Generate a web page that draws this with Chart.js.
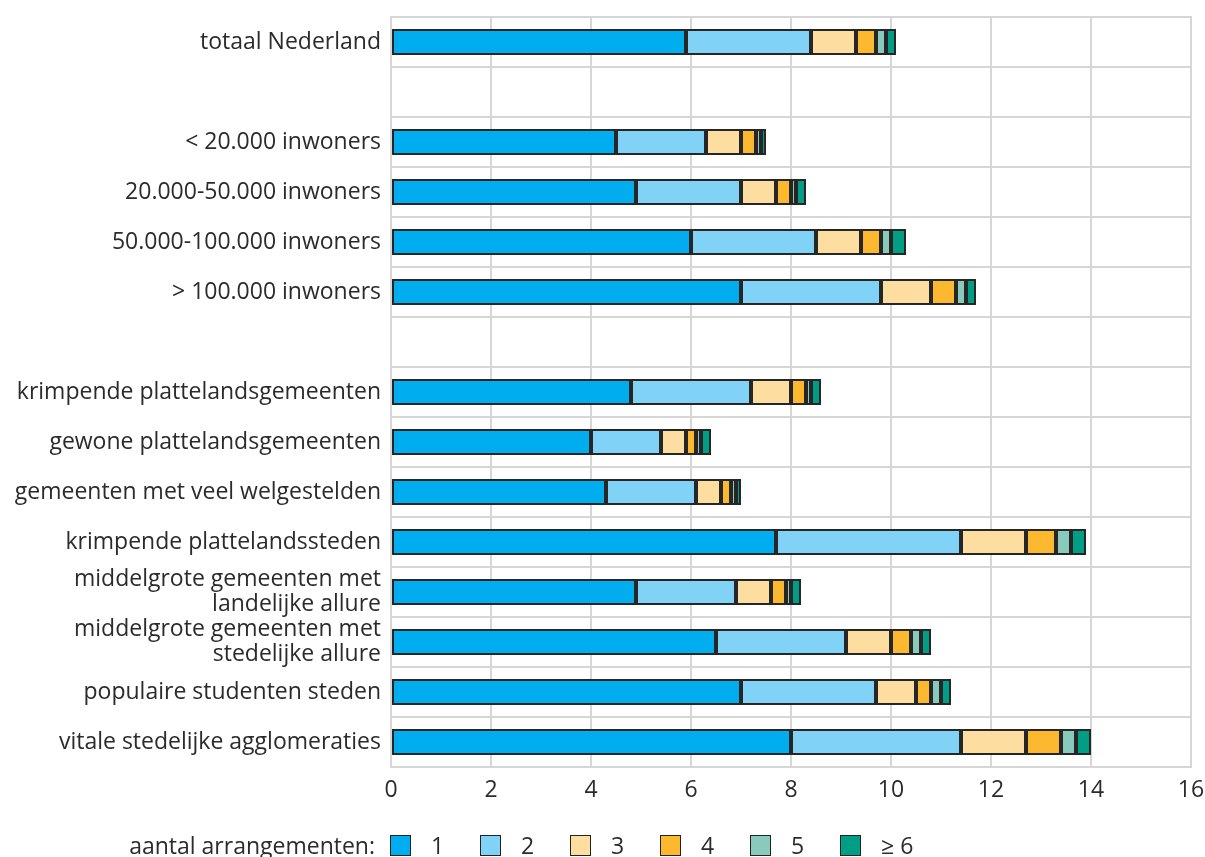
<!DOCTYPE html>
<html>
<head>
<meta charset="utf-8">
<script src="https://cdn.jsdelivr.net/npm/chart.js@4.4.1/dist/chart.umd.min.js"></script>
<style>
    html, body { margin: 0; overflow: hidden; }
    body { background: #fff; font-family: "Open Sans", sans-serif; color: #2b2b2b; }
    #wrap { position: relative; width: 1205px; height: 857px; }
    #chart { display: block; }
    #legend { position: absolute; left: 0; top: 829px; display: flex; align-items: center; font-size: 23px; }
    #legend .title { width: 375px; text-align: right; margin-right: 15px; }
    #legend .item { display: flex; align-items: center; width: 90px; }
    #legend .box { width: 19px; height: 19px; border: 1.5px solid #222; margin-right: 20px; }
</style>
</head>
<body>
<div id="wrap">
    <canvas id="chart" width="1205" height="857"></canvas>
    <div id="legend"><span class="title">aantal arrangementen:</span></div>
</div>
<script>
const categories = [
    "totaal Nederland",
    "",
    "< 20.000 inwoners",
    "20.000-50.000 inwoners",
    "50.000-100.000 inwoners",
    "> 100.000 inwoners",
    "",
    "krimpende plattelandsgemeenten",
    "gewone plattelandsgemeenten",
    "gemeenten met veel welgestelden",
    "krimpende plattelandssteden",
    ["middelgrote gemeenten met", "landelijke allure"],
    ["middelgrote gemeenten met", "stedelijke allure"],
    "populaire studenten steden",
    "vitale stedelijke agglomeraties"
];

const seriesNames = ["1", "2", "3", "4", "5", "≥ 6"];
const seriesColors = ["#00adee", "#80d3f7", "#fddea0", "#fcb92f", "#88cbbd", "#009e84"];

const arr1 = [5.9, null, 4.5, 4.9, 6.0, 7.0, null, 4.8, 4.0, 4.3, 7.7, 4.9, 6.5, 7.0, 8.0];
const arr2 = [2.5, null, 1.8, 2.1, 2.5, 2.8, null, 2.4, 1.4, 1.8, 3.7, 2.0, 2.6, 2.7, 3.4];
const arr3 = [0.9, null, 0.7, 0.7, 0.9, 1.0, null, 0.8, 0.5, 0.5, 1.3, 0.7, 0.9, 0.8, 1.3];
const arr4 = [0.4, null, 0.3, 0.3, 0.4, 0.5, null, 0.3, 0.2, 0.2, 0.6, 0.3, 0.4, 0.3, 0.7];
const arr5 = [0.2, null, 0.1, 0.1, 0.2, 0.2, null, 0.1, 0.1, 0.1, 0.3, 0.1, 0.2, 0.2, 0.3];
const arr6 = [0.2, null, 0.1, 0.2, 0.3, 0.2, null, 0.2, 0.2, 0.1, 0.3, 0.2, 0.2, 0.2, 0.3];
const seriesValues = [arr1, arr2, arr3, arr4, arr5, arr6];

const xTicks = [0, 2, 4, 6, 8, 10, 12, 14, 16];

const gridColor = "#d6d6d6";
const textColor = "#2b2b2b";

const datasets = seriesNames.map((name, i) => ({
    label: name,
    data: seriesValues[i],
    backgroundColor: seriesColors[i],
    borderColor: "#262626",
    borderWidth: 2,
    borderSkipped: false,
    barPercentage: 0.52,
    categoryPercentage: 1.0
}));

// html legend
const legend = document.getElementById("legend");
seriesNames.forEach((name, i) => {
    const item = document.createElement("span");
    item.className = "item";
    const box = document.createElement("span");
    box.className = "box";
    box.style.backgroundColor = seriesColors[i];
    const lbl = document.createElement("span");
    lbl.textContent = name;
    item.appendChild(box);
    item.appendChild(lbl);
    legend.appendChild(item);
});

const ctx = document.getElementById("chart").getContext("2d");
const chart = new Chart(ctx, {
    type: "bar",
    data: { labels: categories, datasets: datasets },
    options: {
        indexAxis: "y",
        responsive: false,
        animation: false,
        layout: { padding: { top: 17, right: 0, left: 0, bottom: 0 } },
        plugins: {
            legend: { display: false },
            tooltip: { enabled: false }
        },
        scales: {
            x: {
                stacked: true,
                min: 0,
                max: 16,
                afterBuildTicks: (scale) => { scale.ticks = xTicks.map(v => ({ value: v })); },
                grid: { color: gridColor, lineWidth: 2, drawTicks: false },
                border: { color: gridColor, width: 2 },
                ticks: { color: textColor, font: { family: "Open Sans", size: 23 }, padding: 10 },
                afterFit: (scale) => {
                    scale.height = 90;
                    scale.paddingLeft = 0;
                    scale.paddingRight = 14;
                }
            },
            y: {
                stacked: true,
                grid: { color: gridColor, lineWidth: 2, offset: true, drawTicks: false },
                border: { color: gridColor, width: 2 },
                ticks: { color: textColor, font: { family: "Open Sans", size: 23, lineHeight: 1.05 }, padding: 10, autoSkip: false },
                afterFit: (scale) => {
                    scale.width = 391;
                    scale.paddingTop = 0;
                    scale.paddingBottom = 0;
                }
            }
        }
    },
    plugins: [{
        id: "frame",
        afterDraw(c) {
            const a = c.chartArea;
            const g = c.ctx;
            g.save();
            g.strokeStyle = gridColor;
            g.lineWidth = 2;
            g.strokeRect(a.left, a.top, a.right - a.left, a.bottom - a.top);
            g.restore();
        }
    }]
});
</script>
</body>
</html>
